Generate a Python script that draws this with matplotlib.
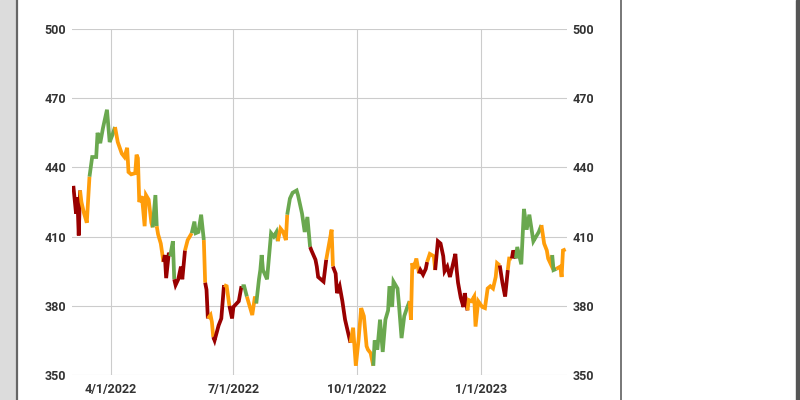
import numpy as np
import pandas as pd
import matplotlib
matplotlib.use("Agg")
import matplotlib.pyplot as plt
import matplotlib.dates as mdates
from matplotlib.lines import Line2D
from matplotlib.patches import Rectangle

plt.rcParams["font.family"] = ["Roboto", "DejaVu Sans"]

# price series, with trend state of each segment
dates = [
    "2022-03-04", "2022-03-06", "2022-03-07", "2022-03-08", "2022-03-09", "2022-03-10",
    "2022-03-12", "2022-03-14", "2022-03-16", "2022-03-18", "2022-03-21", "2022-03-22",
    "2022-03-24", "2022-03-26", "2022-03-29", "2022-03-31", "2022-04-02", "2022-04-04",
    "2022-04-06", "2022-04-09", "2022-04-11", "2022-04-13", "2022-04-14", "2022-04-16",
    "2022-04-19", "2022-04-20", "2022-04-21", "2022-04-22", "2022-04-24", "2022-04-26",
    "2022-04-27", "2022-04-29", "2022-05-01", "2022-05-02", "2022-05-04", "2022-05-05",
    "2022-05-06", "2022-05-08", "2022-05-10", "2022-05-11", "2022-05-12", "2022-05-14",
    "2022-05-15", "2022-05-17", "2022-05-18", "2022-05-19", "2022-05-21", "2022-05-23",
    "2022-05-24", "2022-05-26", "2022-05-28", "2022-05-31", "2022-06-02", "2022-06-03",
    "2022-06-05", "2022-06-07", "2022-06-09", "2022-06-10", "2022-06-11", "2022-06-12",
    "2022-06-14", "2022-06-15", "2022-06-16", "2022-06-17", "2022-06-20", "2022-06-22",
    "2022-06-24", "2022-06-26", "2022-06-28", "2022-06-30", "2022-07-01", "2022-07-05",
    "2022-07-07", "2022-07-09", "2022-07-11", "2022-07-15", "2022-07-17", "2022-07-18",
    "2022-07-20", "2022-07-21", "2022-07-22", "2022-07-23", "2022-07-26", "2022-07-29",
    "2022-07-31", "2022-08-02", "2022-08-03", "2022-08-05", "2022-08-07", "2022-08-09",
    "2022-08-10", "2022-08-12", "2022-08-14", "2022-08-17", "2022-08-18", "2022-08-21",
    "2022-08-23", "2022-08-25", "2022-08-27", "2022-08-28", "2022-08-31", "2022-09-01",
    "2022-09-02", "2022-09-04", "2022-09-06", "2022-09-08", "2022-09-10", "2022-09-12",
    "2022-09-13", "2022-09-15", "2022-09-16", "2022-09-18", "2022-09-20", "2022-09-22",
    "2022-09-25", "2022-09-26", "2022-09-28", "2022-09-30", "2022-10-02", "2022-10-04",
    "2022-10-06", "2022-10-08", "2022-10-09", "2022-10-11", "2022-10-13", "2022-10-14",
    "2022-10-16", "2022-10-18", "2022-10-20", "2022-10-22", "2022-10-24", "2022-10-25",
    "2022-10-27", "2022-10-28", "2022-10-31", "2022-11-01", "2022-11-03", "2022-11-05",
    "2022-11-07", "2022-11-09", "2022-11-10", "2022-11-11", "2022-11-12", "2022-11-14",
    "2022-11-16", "2022-11-17", "2022-11-19", "2022-11-21", "2022-11-22", "2022-11-24",
    "2022-11-27", "2022-11-28", "2022-11-30", "2022-12-02", "2022-12-04", "2022-12-05",
    "2022-12-07", "2022-12-09", "2022-12-11", "2022-12-13", "2022-12-14", "2022-12-15",
    "2022-12-17", "2022-12-19", "2022-12-20", "2022-12-22", "2022-12-23", "2022-12-25",
    "2022-12-27", "2022-12-28", "2022-12-30", "2023-01-02", "2023-01-04", "2023-01-06",
    "2023-01-08", "2023-01-10", "2023-01-12", "2023-01-13", "2023-01-15", "2023-01-17",
    "2023-01-19", "2023-01-21", "2023-01-22", "2023-01-24", "2023-01-25", "2023-01-27",
    "2023-01-28", "2023-01-31", "2023-02-02", "2023-02-04", "2023-02-06", "2023-02-09",
    "2023-02-11", "2023-02-13", "2023-02-15", "2023-02-17", "2023-02-19", "2023-02-20",
    "2023-02-22", "2023-02-23", "2023-02-24", "2023-02-26", "2023-03-01", "2023-03-02",
    "2023-03-03", "2023-03-05",
]

closes = [
    432.0, 420.0, 427.0, 410.5, 430.0, 425.0,
    420.0, 416.0, 436.0, 444.5, 444.5, 455.0,
    450.5, 457.0, 465.0, 451.0, 454.0, 457.5,
    451.0, 446.0, 444.5, 448.5, 438.0, 437.0,
    437.5, 445.5, 444.0, 425.0, 427.5, 414.5,
    428.0, 426.0, 416.0, 414.0, 428.0, 414.5,
    411.0, 407.0, 399.0, 402.0, 392.0, 403.0,
    401.5, 408.0, 391.5, 389.0, 391.5, 397.0,
    391.5, 404.0, 408.5, 411.5, 416.5, 411.5,
    412.0, 419.5, 408.5, 390.0, 387.0, 374.5,
    376.0, 373.0, 366.5, 365.0, 371.5, 374.5,
    389.0, 388.5, 380.0, 374.5, 379.5, 382.0,
    388.5, 388.5, 384.0, 376.0, 384.0, 381.0,
    391.5, 395.5, 402.0, 395.5, 391.5, 411.5,
    410.0, 412.0, 408.0, 413.5, 412.0, 408.5,
    419.5, 426.5, 429.0, 430.0, 428.0, 420.0,
    412.0, 418.5, 405.5, 404.0, 400.0, 397.0,
    392.5, 391.5, 390.5, 400.0, 406.5, 413.0,
    397.0, 394.0, 385.5, 388.5, 382.0, 374.0,
    366.5, 364.0, 370.5, 354.0, 365.0, 379.0,
    375.5, 362.5, 361.0, 359.5, 354.0, 365.0,
    361.0, 374.0, 360.0, 374.0, 378.0, 388.5,
    379.5, 390.5, 387.5, 381.0, 366.0, 375.5,
    379.0, 382.0, 374.0, 398.5, 396.0, 400.5,
    394.0, 395.5, 393.5, 396.0, 399.0, 402.5,
    401.5, 395.5, 408.0, 407.0, 401.5, 395.0,
    397.0, 392.5, 397.5, 402.5, 395.5, 390.0,
    383.5, 379.5, 385.5, 378.0, 382.5, 382.0,
    384.0, 371.0, 382.0, 379.5, 379.0, 387.5,
    388.5, 387.5, 392.5, 398.5, 397.5, 390.0,
    384.0, 395.5, 400.5, 400.5, 404.0, 400.5,
    405.5, 398.0, 422.0, 413.0, 419.5, 408.0,
    410.0, 412.0, 415.0, 407.0, 404.0, 400.5,
    398.0, 402.0, 395.5, 396.0, 397.0, 392.5,
    404.0, 404.5,
]

# g = up trend, o = neutral, r = down trend (colour of the segment ending at each point)
trend = "".join([
    "rrrrro", "oooggg", "gggggg", "oooooo", "oooooo", "oooogg",
    "ooorrr", "rggrrr", "rroogg", "gggorr", "ooorrr", "roorrr",
    "rggooo", "gggggg", "gggooo", "oggggg", "gggrrr", "rrrroo",
    "orrrrr", "rroooo", "ooooog", "gggggg", "gggggg", "ggoooo",
    "orrrro", "oorrrr", "rrrrrr", "rrrroo", "oooooo", "ooooor",
    "rroorr", "gggggg", "gggooo", "ooggoo", "oo",
])

colors = {"g": "#6aa84f", "o": "#ff9d0a", "r": "#990000"}
yticks = [350, 380, 410, 440, 470, 500]
xticks = ["2022-04-01", "2022-07-01", "2022-10-01", "2023-01-01"]
xtick_labels = ["4/1/2022", "7/1/2022", "10/1/2022", "1/1/2023"]

x = mdates.date2num(pd.to_datetime(dates))
y = np.array(closes)
n = min(len(x), len(y), len(trend))

fig = plt.figure(figsize=(8, 4), dpi=100)
ax = fig.add_axes([0.09, 0.0625, 0.61875, 0.865])

# draw runs of equal colour
start = 0
for i in range(1, n):
    last = (i == n - 1) or (trend[i + 1] != trend[i])
    if last:
        ax.plot(x[start:i + 1], y[start:i + 1], color=colors[trend[i]],
                lw=2.7, solid_joinstyle="miter", solid_capstyle="butt", zorder=3)
        start = i

ax.set_ylim(350, 500)
ax.set_xlim(mdates.date2num(pd.Timestamp("2022-03-03")),
            mdates.date2num(pd.Timestamp("2023-03-06")))
ax.set_yticks(yticks)
ax.set_xticks(mdates.date2num(pd.to_datetime(xticks)))
ax.set_xticklabels(xtick_labels)
ax.grid(True, color="#cccccc", lw=0.8)
ax.set_axisbelow(True)
for s in ax.spines.values():
    s.set_visible(False)
ax.tick_params(length=0, labelsize=9, labelcolor="#333333", pad=4)
ax.tick_params(axis="x", pad=6)
ax.tick_params(axis="y", labelright=True)
for lab in ax.get_xticklabels() + ax.get_yticklabels():
    lab.set_fontweight("bold")

# surrounding page frame
fig.add_artist(Rectangle((0, 0), 16 / 800, 1, transform=fig.transFigure,
                         color="#dcdcdc", zorder=0))
fig.add_artist(Line2D([17 / 800] * 2, [0, 1], transform=fig.transFigure,
                      color="#666666", lw=1.6))
fig.add_artist(Line2D([621 / 800] * 2, [0, 1], transform=fig.transFigure,
                      color="#777777", lw=1.4))
fig.add_artist(Rectangle((796 / 800, 0), 4 / 800, 1, transform=fig.transFigure,
                         color="#555555", zorder=0))

fig.savefig("out.png", dpi=100)
